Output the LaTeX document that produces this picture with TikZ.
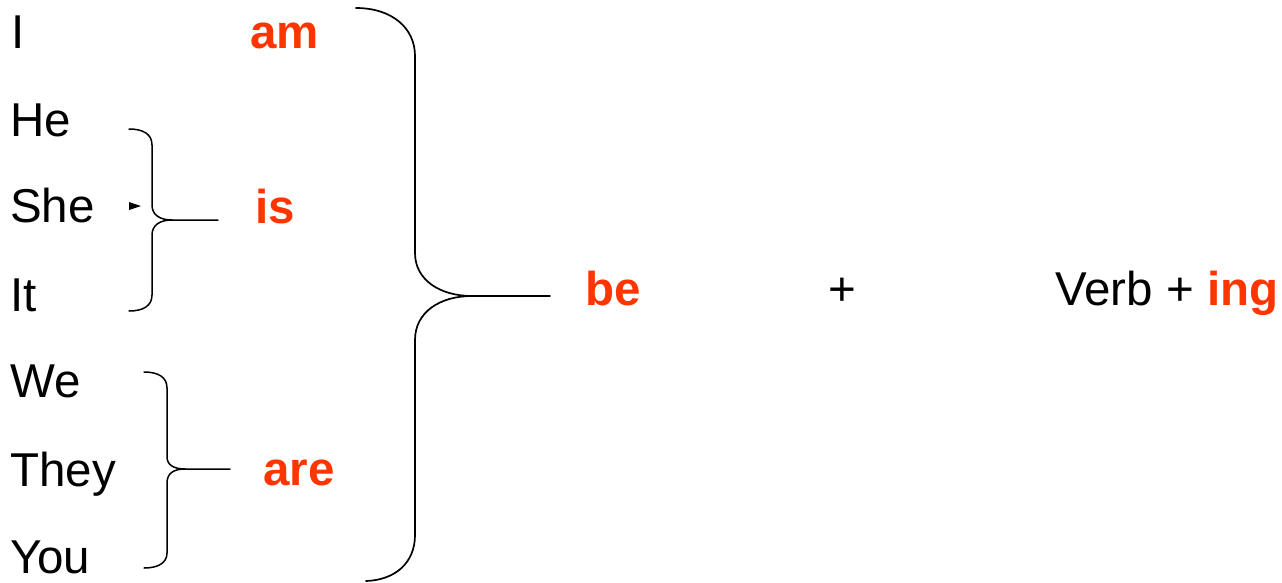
\documentclass[tikz,border=0pt]{standalone}
\usepackage{fontspec}
\setmainfont{Liberation Sans}
\definecolor{hl}{HTML}{FF3500}
\begin{document}
\begin{tikzpicture}[x=1pt,y=-1pt,
  word/.style={anchor=base west,inner sep=0pt,font=\fontsize{47.5}{51}\selectfont},
  hlword/.style={word,text=hl,font=\fontsize{47.5}{51}\selectfont\bfseries},
  brace/.style={line width=1.5pt,line cap=round}]
\useasboundingbox (0,0) rectangle (1282,582);
% pronouns
\node[word] (I) at (11,48) {I};
\node[word] (He) at (10,136) {He};
\node[word] (She) at (10,222) {She};
\node[word] (It) at (10,311) {It};
\node[word] (We) at (10,397) {We};
\node[word] (They) at (10,486) {They};
\node[word] (You) at (10,573) {You};
% verb forms
\node[hlword] (am) at (250,48) {am};
\node[hlword] (is) at (255,223) {is};
\node[hlword] (are) at (263,485) {are};
\node[hlword] (be) at (585,305) {be};
\node[word] (plus) at (828,305) {+};
\node[word] (verb) at (1055,305) {Verb + \textcolor{hl}{\bfseries ing}};
% small arrow head
\fill (129,202) -- (141,206) -- (129,210) -- cycle;
% brace for is
\draw[brace] (129,129) .. controls (143,129) and (152,134) .. (152,145) -- (152,205)
  .. controls (152,215) and (160,220) .. (172,220) -- (218,220);
\draw[brace] (172,220) .. controls (160,220) and (152,225) .. (152,235) -- (152,295)
  .. controls (152,306) and (143,311) .. (129,311);
% brace for are
\draw[brace] (144,372) .. controls (158,372) and (167,377) .. (167,388) -- (167,457)
  .. controls (167,465) and (174,469) .. (185,469) -- (230,469);
\draw[brace] (185,469) .. controls (174,469) and (167,473) .. (167,483) -- (167,553)
  .. controls (167,563) and (158,568) .. (144,568);
% big brace
\draw[brace,line width=1.7pt] (356,8) .. controls (392,8) and (415,28) .. (415,56) -- (415,253)
  .. controls (415,280) and (440,296) .. (472,296) -- (550,296);
\draw[brace,line width=1.7pt] (472,296) .. controls (440,296) and (415,312) .. (415,340) -- (415,535)
  .. controls (415,563) and (395,580) .. (366,581);
\end{tikzpicture}
\end{document}
